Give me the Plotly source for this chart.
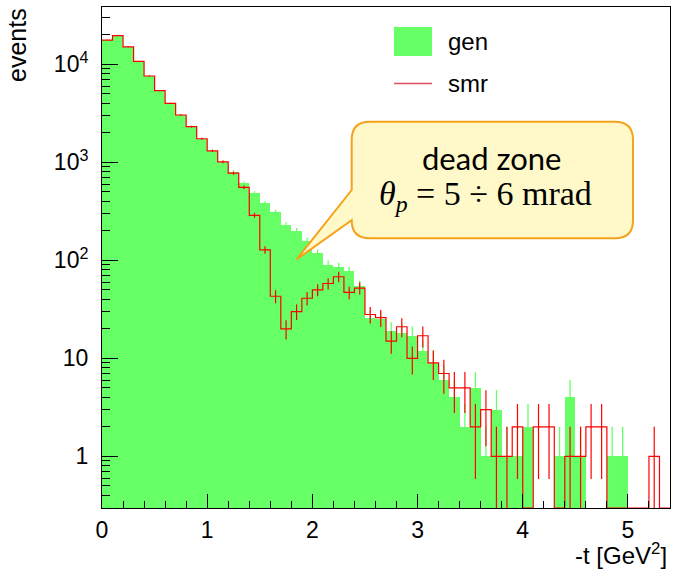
import numpy as np
import plotly.graph_objects as go

# ---------------- data ----------------
bin_width = 0.1
x_lo, x_hi = 0.0, 5.4
gen = [17700, 19600, 15100, 10700, 7600, 5380, 4000, 3040, 2310, 1740,
       1310, 1010, 800, 611, 485, 382, 310, 229, 200, 158,
       118, 90, 85, 77, 55, 26, 25, 19, 18, 17,
       12, 9, 6, 4, 2, 5, 1, 3, 1, 1,
       2, 0, 0, 1, 4, 1, 0, 0, 1, 1,
       0, 0, 0, 0]
smr = [17700, 19600, 15100, 10700, 7600, 5380, 4000, 3040, 2310, 1740,
       1310, 1010, 775, 556, 288, 128, 43, 20, 30, 41,
       50, 58, 68, 47, 52, 28, 26, 15, 21, 10,
       17, 9, 7, 5, 5, 2, 3, 1, 1, 2,
       0, 2, 2, 0, 1, 1, 2, 2, 0, 0,
       0, 0, 1, 0]
y_lo, y_hi = 0.2968, 38460.0
x_tick_vals = [0, 1, 2, 3, 4, 5]
y_tick_vals = [1, 10, 100, 1000, 10000]
y_tick_text = ["1", "10", "10<sup>2</sup>", "10<sup>3</sup>", "10<sup>4</sup>"]
series_names = ["gen", "smr"]
callout_lines = ["dead zone", "<i>θ</i><sub><i>p</i></sub> = 5 ÷ 6 mrad"]

GREEN = "#66ff66"
RED = "#ff0000"
FONT = "Liberation Sans, Arial, sans-serif"

gen = np.array(gen, dtype=float)
smr = np.array(smr, dtype=float)
edges = np.round(np.arange(len(gen) + 1) * bin_width, 6)
centers = edges[:-1] + bin_width / 2

# ---------------- layout geometry (pixels) ----------------
W_PX, H_PX = 673, 572
L, R, T, B = 102, 3, 7, 64
PW = W_PX - L - R
PH = H_PX - T - B


def px(x):
    return (x - L) / PW


def py(y):
    return (H_PX - B - y) / PH


fig = go.Figure()

# green filled histogram
fig.add_trace(go.Bar(
    x=centers, y=np.where(gen > 0, gen, np.nan), width=bin_width,
    marker=dict(color=GREEN, line=dict(width=0)), name=series_names[0],
    showlegend=False))

# green error bars
nz = gen > 0
g_err = np.sqrt(gen[nz])
g_low = gen[nz] - np.maximum(gen[nz] - g_err, 1e-3)
fig.add_trace(go.Scatter(
    x=centers[nz], y=gen[nz], mode="markers",
    marker=dict(size=2, color=GREEN, opacity=0),
    error_y=dict(type="data", array=g_err, arrayminus=g_low, color=GREEN,
                 thickness=1.3, width=0),
    showlegend=False, hoverinfo="skip"))

# red step line
smr_line = np.where(smr > 0, smr, y_lo)
fig.add_trace(go.Scatter(
    x=edges, y=np.append(smr_line, smr_line[-1]), mode="lines",
    line=dict(color=RED, width=1.2, shape="hv"), name=series_names[1],
    showlegend=False))

# red error bars
nzs = smr > 0
s_err = np.sqrt(smr[nzs])
s_low = smr[nzs] - np.maximum(smr[nzs] - s_err, 1e-3)
fig.add_trace(go.Scatter(
    x=centers[nzs], y=smr[nzs], mode="markers",
    marker=dict(size=2, color=RED, opacity=0),
    error_y=dict(type="data", array=s_err, arrayminus=s_low, color=RED,
                 thickness=1.2, width=0),
    showlegend=False, hoverinfo="skip"))

minor_y = [m * 10.0 ** k for k in range(-1, 5) for m in range(2, 10)
           if y_lo <= m * 10.0 ** k <= y_hi]

fig.update_layout(
    width=W_PX, height=H_PX,
    margin=dict(l=L, r=R, t=T, b=B, pad=0),
    paper_bgcolor="white", plot_bgcolor="white",
    bargap=0, barmode="overlay",
    font=dict(family=FONT, color="black", size=22),
    xaxis=dict(range=[x_lo, x_hi], showgrid=False, zeroline=False,
               showline=True, linecolor="black", linewidth=1, mirror=True,
               ticks="inside", ticklen=14, tickwidth=1, tickcolor="black",
               tickvals=x_tick_vals, ticktext=[str(v) for v in x_tick_vals],
               tickfont=dict(size=23, family=FONT), ticklabelstandoff=1,
               minor=dict(ticks="inside", ticklen=7, tickwidth=1,
                          tickcolor="black", dtick=0.2, tick0=0,
                          showgrid=False)),
    yaxis=dict(type="log", range=[np.log10(y_lo), np.log10(y_hi)],
               showgrid=False, zeroline=False,
               showline=True, linecolor="black", linewidth=1, mirror=True,
               ticks="inside", ticklen=16, tickwidth=1, tickcolor="black",
               tickvals=y_tick_vals, ticktext=y_tick_text,
               tickfont=dict(size=23, family=FONT), ticklabelstandoff=8,
               minor=dict(ticks="inside", ticklen=8, tickwidth=1,
                          tickcolor="black", tickvals=minor_y,
                          showgrid=False)),
    showlegend=False,
)

# axis titles
fig.add_annotation(text="events", xref="paper", yref="paper",
                   x=px(17), y=py(45), textangle=-90, showarrow=False,
                   xanchor="center", yanchor="middle",
                   font=dict(size=25, family=FONT))
fig.add_annotation(text="-t [GeV<sup>2</sup>]", xref="paper", yref="paper",
                   x=px(669), y=py(571), showarrow=False,
                   xanchor="right", yanchor="bottom",
                   font=dict(size=24, family=FONT))

# legend (drawn manually to match ROOT's TLegend)
fig.add_shape(type="rect", xref="paper", yref="paper",
              x0=px(394), x1=px(432), y0=py(56), y1=py(27),
              fillcolor=GREEN, line=dict(width=0), layer="above")
fig.add_shape(type="line", xref="paper", yref="paper",
              x0=px(394), x1=px(432), y0=py(83.5), y1=py(83.5),
              line=dict(color="#e05060", width=1.5), layer="above")
fig.add_annotation(text=series_names[0], xref="paper", yref="paper",
                   x=px(446), y=py(41), showarrow=False,
                   xanchor="left", yanchor="middle",
                   font=dict(size=24, family=FONT))
fig.add_annotation(text=series_names[1], xref="paper", yref="paper",
                   x=px(446), y=py(83), showarrow=False,
                   xanchor="left", yanchor="middle",
                   font=dict(size=24, family=FONT))

# callout box with pointer
x0b, x1b, y0b, y1b, rr = 351.7, 633.0, 121.7, 238.3, 18.0
tip = (296.7, 259.3)
pts = [
    ("M", [(x0b + rr, y0b)]),
    ("L", [(x1b - rr, y0b)]),
    ("Q", [(x1b, y0b), (x1b, y0b + rr)]),
    ("L", [(x1b, y1b - rr)]),
    ("Q", [(x1b, y1b), (x1b - rr, y1b)]),
    ("L", [(x0b + rr, y1b)]),
    ("Q", [(x0b, y1b), (x0b, y1b - rr)]),
    ("L", [tip]),
    ("L", [(x0b, 190.0)]),
    ("L", [(x0b, y0b + rr)]),
    ("Q", [(x0b, y0b), (x0b + rr, y0b)]),
]
path = ""
for cmd, cp in pts:
    path += cmd + " " + " ".join(f"{px(a):.5f},{py(b):.5f}" for a, b in cp) + " "
path += "Z"
fig.add_shape(type="path", path=path, xref="paper", yref="paper",
              fillcolor="#fff9c9", line=dict(color="#f5a21c", width=2),
              layer="above")
fig.add_annotation(text=callout_lines[0], xref="paper", yref="paper",
                   x=px(491), y=py(158), showarrow=False,
                   xanchor="center", yanchor="middle",
                   font=dict(size=31, family="Lato, Open Sans, sans-serif"))
fig.add_annotation(text=callout_lines[1], xref="paper", yref="paper",
                   x=px(485), y=py(196), showarrow=False,
                   xanchor="center", yanchor="middle",
                   font=dict(size=34, family="Liberation Serif, serif"))

fig.write_html("out.html")
